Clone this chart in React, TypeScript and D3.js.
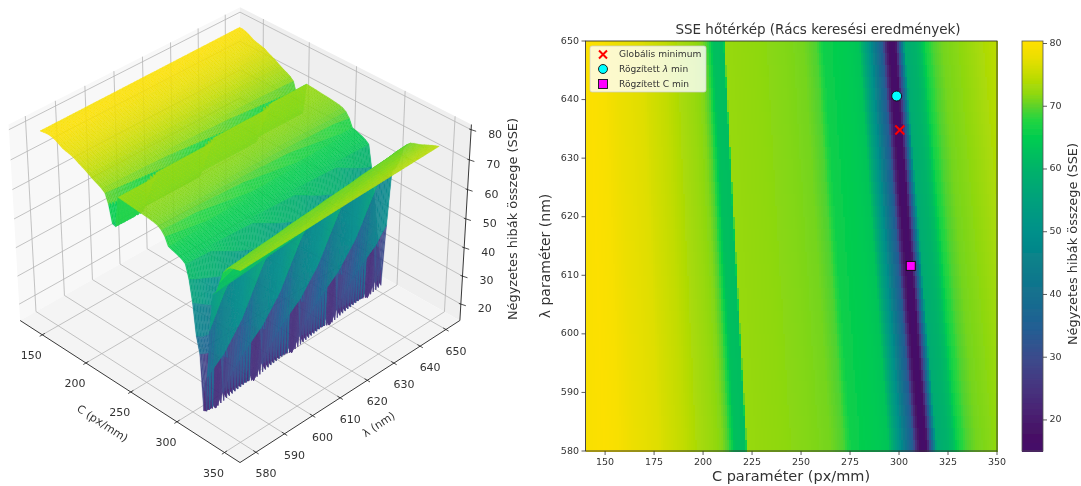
import React, { useMemo } from "react";
import * as d3 from "d3";

// ---- data ----
const profileU = [140,150,157,165,172,178,180,190,198,205,210,213,215,216.5,222,222.8,240,255,265,272,276,290,296,298,301,303,305,307,309,310,311.5,312.5,313.5,315,316.5,318,319,320,325,328,329.5,331,335,340,350,360,372];
const profileSSE = [79.5,80,79.5,78,77.5,77,76.5,75,73.5,72.5,71.5,69.5,66,62.5,62,72.5,72,71.5,71,69.5,66,64.5,63,58,52,46,40,38,34,30,25,15,22,29,34,42,50,58,60,62,65,67,69.5,71,72,73.5,75];
const heatTroughU = [295,298,301,303,305,307.5,309,310.5,312.5,314.5,315.5,317,318.5,319.5,325];
const heatTroughSSE = [63,56,50,44,39,34,24,18,15,18,26,36,48,58,60];
const ridgeDrift = 0.00078; // relative shift of the pattern per nm of λ
const rowJog = [0.35, -0.1, -0.1];
const toothRows = [1, 0, 0];

const cGrid = d3.range(140, 350.01, 3.5);
const lambdaGrid = d3.range(580, 650).flatMap((l) => [l, l + 0.25, l + 0.75]).concat([650]);

const cTicks3D = [150, 200, 250, 300, 350];
const lambdaTicks = [580, 590, 600, 610, 620, 630, 640, 650];
const sseTicks = [20, 30, 40, 50, 60, 70, 80];
const cTicksHeat = [150, 175, 200, 225, 250, 275, 300, 325, 350];

const colorValues = [15, 18, 22, 26, 30, 35, 40, 45, 50, 55, 60, 65, 68, 70, 72, 75, 78, 80.4];
const colorHexes = ["#440a68","#471265","#482575","#453781","#3b4b8c","#215f93","#14708e","#0a7f8a","#00908a","#00a07c","#00b26a","#00cc50","#25d540","#5ad22c","#8fd80f","#c2dc00","#ecdf00","#ffe000"];

const globalMin = { c: 300.4, l: 634.8 };
const fixedLambdaMin = { c: 298.8, l: 640.6 };
const fixedCMin = { c: 306, l: 611.6 };

const FONT = "'DejaVu Sans', sans-serif";
const INK = "#333";
const LABEL_3D = "Négyzetes hibák összege (SSE)";

// ---- scales ----
const color = d3.scaleLinear<string>().domain(colorValues).range(colorHexes).clamp(true);
const profile = d3.scaleLinear().domain(profileU).range(profileSSE).clamp(true);
const heatTrough = d3.scaleLinear().domain(heatTroughU).range(heatTroughSSE).clamp(true);
const patternPos = (c: number, l: number) => c * (1 + ridgeDrift * (l - 580));

// value on the coarse surface grid: one column per grid step, with the row-to-row jitter of the source
function gridValue(c: number, l: number, row: number) {
  const u = patternPos(c, l);
  const base = profile(u < 230 ? u + rowJog[row % 3] : u);
  if (toothRows[row % 3] === 1 && base < 31) return 15.5 + (base - 15.5) * 0.15;
  return base;
}
// value in the heatmap, where the coarse grid is drawn interpolated
function heatValue(c: number, l: number) {
  const u = patternPos(c, l);
  return u > 295 && u < 325 ? heatTrough(u) : profile(u);
}

// 3D camera
const xLim: [number, number] = [124, 366];
const yLim: [number, number] = [574.5, 655.5];
const zLim: [number, number] = [14.1, 81.7];
const wx = d3.scaleLinear().domain(xLim).range([-0.595, 0.595]);
const wy = d3.scaleLinear().domain(yLim).range([-0.595, 0.595]);
const wz = d3.scaleLinear().domain(zLim).range([-0.446, 0.446]);
const EL = (35 * Math.PI) / 180;
const AZ = (-45 * Math.PI) / 180;
const EYE_DIST = 10;
const FOCAL = 2680;
const CX = 240;
const CY = 225;
const e = [Math.cos(EL) * Math.cos(AZ), Math.cos(EL) * Math.sin(AZ), Math.sin(EL)];
const rightV = [-Math.sin(AZ), Math.cos(AZ), 0];
const upV = [-Math.sin(EL) * Math.cos(AZ), -Math.sin(EL) * Math.sin(AZ), Math.cos(EL)];
const dot = (a: number[], b: number[]) => a[0] * b[0] + a[1] * b[1] + a[2] * b[2];
function project(c: number, l: number, z: number) {
  const p = [wx(c), wy(l), wz(z)];
  const d = EYE_DIST - dot(p, e);
  return { x: CX + (FOCAL * dot(p, rightV)) / d, y: CY - (FOCAL * dot(p, upV)) / d, d };
}
const poly = d3.line<{ x: number; y: number }>().x((p) => p.x).y((p) => p.y);
const closed = (pts: { x: number; y: number }[]) => poly(pts) + "Z";

function Seg({ a, b, stroke, w }: { a: any; b: any; stroke: string; w: number }) {
  return <line x1={a.x} y1={a.y} x2={b.x} y2={b.y} stroke={stroke} strokeWidth={w} />;
}

function Surface3D() {
  const faces = useMemo(() => {
    const height = lambdaGrid.map((l, j) => cGrid.map((c) => gridValue(c, l, j)));
    const out: { d: string; depth: number; fill: string }[] = [];
    for (let j = 0; j < lambdaGrid.length - 1; j++) {
      for (let i = 0; i < cGrid.length - 1; i++) {
        const zs = [height[j][i], height[j][i + 1], height[j + 1][i + 1], height[j + 1][i]];
        const pts = [
          project(cGrid[i], lambdaGrid[j], zs[0]),
          project(cGrid[i + 1], lambdaGrid[j], zs[1]),
          project(cGrid[i + 1], lambdaGrid[j + 1], zs[2]),
          project(cGrid[i], lambdaGrid[j + 1], zs[3]),
        ];
        out.push({ d: closed(pts), depth: d3.mean(pts, (p) => p.d)!, fill: color(d3.mean(zs)!) });
      }
    }
    return out.sort((a, b) => b.depth - a.depth);
  }, []);

  const [x0, x1] = xLim, [y0, y1] = yLim, [z0, z1] = zLim;
  const gridColor = "#b4b4b4";
  const wallY = closed([project(x0, y1, z0), project(x1, y1, z0), project(x1, y1, z1), project(x0, y1, z1)]);
  const wallX = closed([project(x0, y0, z0), project(x0, y1, z0), project(x0, y1, z1), project(x0, y0, z1)]);
  const floor = closed([project(x0, y0, z0), project(x1, y0, z0), project(x1, y1, z0), project(x0, y1, z0)]);

  return (
    <g fontFamily={FONT} fill={INK}>
      <path d={wallX} fill="#f8f8f8" />
      <path d={wallY} fill="#efefef" />
      <path d={floor} fill="#f4f4f4" />
      {cTicks3D.map((c) => (
        <g key={c}>
          <Seg a={project(c, y0, z0)} b={project(c, y1, z0)} stroke={gridColor} w={0.8} />
          <Seg a={project(c, y1, z0)} b={project(c, y1, z1)} stroke={gridColor} w={0.8} />
        </g>
      ))}
      {lambdaTicks.map((l) => (
        <g key={l}>
          <Seg a={project(x0, l, z0)} b={project(x1, l, z0)} stroke={gridColor} w={0.8} />
          <Seg a={project(x0, l, z0)} b={project(x0, l, z1)} stroke={gridColor} w={0.8} />
        </g>
      ))}
      {sseTicks.map((z) => (
        <g key={z}>
          <Seg a={project(x0, y0, z)} b={project(x0, y1, z)} stroke={gridColor} w={0.8} />
          <Seg a={project(x0, y1, z)} b={project(x1, y1, z)} stroke={gridColor} w={0.8} />
        </g>
      ))}
      <g opacity={0.95}>
        {faces.map((f, i) => (
          <path key={i} d={f.d} fill={f.fill} stroke={f.fill} strokeWidth={0.3} />
        ))}
      </g>
      <Seg a={project(x0, y0, z0)} b={project(x1, y0, z0)} stroke="#222" w={0.9} />
      <Seg a={project(x1, y0, z0)} b={project(x1, y1, z0)} stroke="#222" w={0.9} />
      <Seg a={project(x1, y1, z0)} b={project(x1, y1, z1)} stroke="#222" w={0.9} />
      {cTicks3D.map((c) => {
        const p = project(c, y0, z0);
        return (
          <g key={c}>
            <Seg a={project(c, y0 - 0.9, z0)} b={project(c, y0 + 0.9, z0)} stroke="#222" w={0.8} />
            <text x={p.x - 11} y={p.y + 21} fontSize={11} textAnchor="middle" dominantBaseline="middle">{c}</text>
          </g>
        );
      })}
      {lambdaTicks.map((l) => {
        const p = project(x1, l, z0);
        return (
          <g key={l}>
            <Seg a={project(x1 - 2.8, l, z0)} b={project(x1 + 2.8, l, z0)} stroke="#222" w={0.8} />
            <text x={p.x + 10} y={p.y + 22} fontSize={11} textAnchor="middle" dominantBaseline="middle">{l}</text>
          </g>
        );
      })}
      {sseTicks.map((z) => {
        const p = project(x1, y1, z);
        return (
          <g key={z}>
            <line x1={p.x - 2} y1={p.y - 0.7} x2={p.x + 5} y2={p.y + 1.6} stroke="#222" strokeWidth={0.8} />
            <text x={p.x + 24} y={p.y + 5} fontSize={11} textAnchor="middle" dominantBaseline="middle">{z}</text>
          </g>
        );
      })}
      <text transform="translate(102,424) rotate(33)" fontSize={11} textAnchor="middle" dominantBaseline="middle">C (px/mm)</text>
      <text transform="translate(379,425) rotate(-33)" fontSize={11} textAnchor="middle" dominantBaseline="middle">λ (nm)</text>
      <text transform="translate(513,219) rotate(-90)" fontSize={12.9} textAnchor="middle" dominantBaseline="middle">{LABEL_3D}</text>
    </g>
  );
}

function Heatmap() {
  const x = d3.scaleLinear().domain([140, 350]).range([585.5, 997]);
  const y = d3.scaleLinear().domain([580, 650]).range([451, 41]);
  const zBar = d3.scaleLinear().domain([15.05, 80.4]).range([451, 41]);
  const cols = useMemo(() => d3.range(140, 350, 1.02), []);
  const rows = useMemo(() => d3.range(580, 650, 2), []);
  const barLevels = useMemo(() => d3.range(15.05, 80.4, 0.2), []);
  const cw = x(cols[1]) - x(cols[0]);
  const rh = y(rows[0]) - y(rows[1]);
  const f = (px: number) => Math.round(px * 100) / 100;
  const gx = x(globalMin.c), gy = y(globalMin.l);
  const X = (cx: number, cy: number, r: number) => (
    <path d={`M${cx - r},${cy - r}L${cx + r},${cy + r}M${cx - r},${cy + r}L${cx + r},${cy - r}`} stroke="#ff0000" strokeWidth={2} fill="none" />
  );
  return (
    <g fontFamily={FONT} fill={INK}>
      <g shapeRendering="crispEdges">
        {rows.map((l) =>
          cols.map((c) => (
            <rect key={`${l}-${c}`} x={f(x(c))} y={f(y(l + 2))} width={f(cw + 0.6)} height={f(rh + 0.6)} fill={color(heatValue(c + 0.5, l + 1))} />
          ))
        )}
      </g>
      <rect x={585.5} y={41} width={411.5} height={410} fill="none" stroke="#333" strokeWidth={0.9} />
      {cTicksHeat.map((c) => (
        <g key={c}>
          <line x1={x(c)} x2={x(c)} y1={451} y2={455} stroke="#333" strokeWidth={0.8} />
          <text x={x(c)} y={462.5} fontSize={9.5} textAnchor="middle" dominantBaseline="middle">{c}</text>
        </g>
      ))}
      {lambdaTicks.map((l) => (
        <g key={l}>
          <line x1={581.5} x2={585.5} y1={y(l)} y2={y(l)} stroke="#333" strokeWidth={0.8} />
          <text x={579} y={y(l)} fontSize={9.5} textAnchor="end" dominantBaseline="middle">{l}</text>
        </g>
      ))}
      <text x={818} y={30} fontSize={13.5} textAnchor="middle" dominantBaseline="middle">SSE hőtérkép (Rács keresési eredmények)</text>
      <text x={791} y={477} fontSize={14.5} textAnchor="middle" dominantBaseline="middle">C paraméter (px/mm)</text>
      <text transform="translate(546,256) rotate(-90)" fontSize={14} textAnchor="middle" dominantBaseline="middle">λ paraméter (nm)</text>

      {X(gx, gy, 4.5)}
      <circle cx={x(fixedLambdaMin.c)} cy={y(fixedLambdaMin.l)} r={5} fill="#00ffff" stroke="#111" strokeWidth={1} />
      <rect x={x(fixedCMin.c) - 4.5} y={y(fixedCMin.l) - 4.5} width={9} height={9} fill="#ff00ff" stroke="#111" strokeWidth={1} />

      <rect x={590} y={46} width={116} height={46} rx={2} fill="#ffffff" fillOpacity={0.8} stroke="#cccccc" strokeWidth={0.7} />
      {X(603, 54.5, 4)}
      <circle cx={603} cy={69} r={4.5} fill="#00ffff" stroke="#111" strokeWidth={0.9} />
      <rect x={598.5} y={79.5} width={9} height={9} fill="#ff00ff" stroke="#111" strokeWidth={0.9} />
      <text x={619} y={54.5} fontSize={9.1} dominantBaseline="middle">Globális minimum</text>
      <text x={619} y={69} fontSize={9.1} dominantBaseline="middle">Rögzített <tspan fontStyle="italic">λ</tspan> min</text>
      <text x={619} y={84} fontSize={9.1} dominantBaseline="middle">Rögzített C min</text>

      <g shapeRendering="crispEdges">
        {barLevels.map((v) => (
          <rect key={v} x={1022} y={f(zBar(v + 0.2))} width={21} height={f(zBar(0) - zBar(0.2) + 0.6)} fill={color(v + 0.1)} />
        ))}
      </g>
      <rect x={1022} y={41} width={21} height={410} fill="none" stroke="#555" strokeWidth={0.8} />
      {sseTicks.map((z) => (
        <g key={z}>
          <line x1={1043} x2={1047} y1={zBar(z)} y2={zBar(z)} stroke="#333" strokeWidth={0.8} />
          <text x={1049.5} y={zBar(z)} fontSize={9.5} dominantBaseline="middle">{z}</text>
        </g>
      ))}
      <text transform="translate(1073,244) rotate(-90)" fontSize={12.9} textAnchor="middle" dominantBaseline="middle">{LABEL_3D}</text>
    </g>
  );
}

export default function App() {
  return (
    <svg width={1081} height={486} style={{ position: "absolute", left: 0, top: 0, background: "#fff" }}>
      <defs>
        <filter id="soft" x="0" y="0" width="100%" height="100%">
          <feGaussianBlur stdDeviation={0.4} />
        </filter>
      </defs>
      <g filter="url(#soft)">
        <rect width={1081} height={486} fill="#fff" />
        <Surface3D />
        <Heatmap />
      </g>
    </svg>
  );
}
